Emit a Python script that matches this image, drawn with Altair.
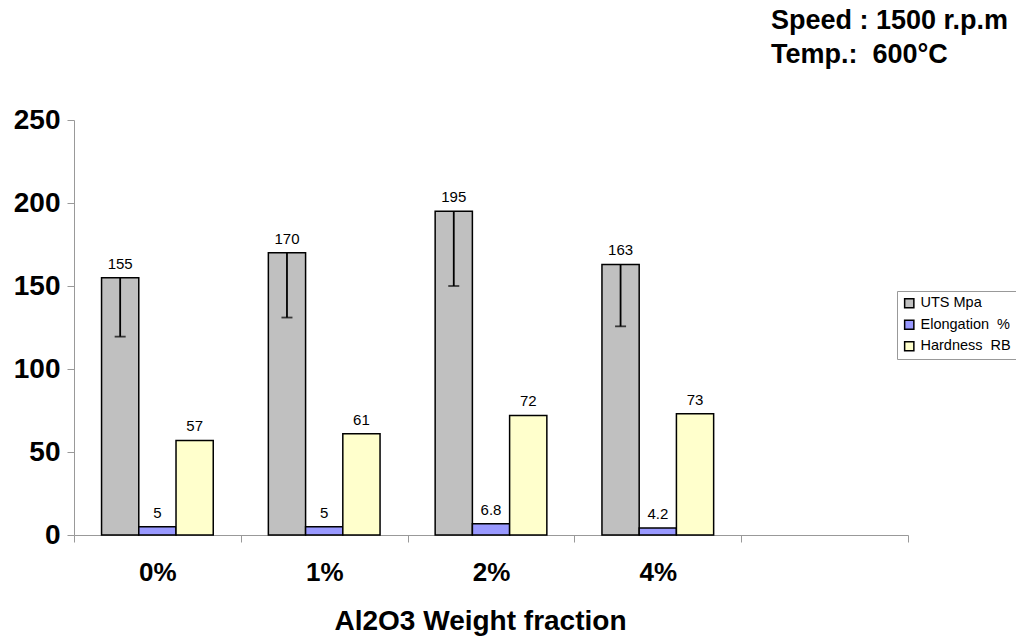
import altair as alt
import pandas as pd

categories = ["0%", "1%", "2%", "4%"]
x_domain = ["0%", "1%", "2%", "4%", " "]
series = ["UTS Mpa", "Elongation\u00a0\u00a0%", "Hardness\u00a0\u00a0RB"]
uts = [155, 170, 195, 163]
elong = [5, 5, 6.8, 4.2]
hard = [57, 61, 72, 73]
uts_low = [119.5, 131, 150, 125.7]
value_labels_uts = ["155", "170", "195", "163"]
value_labels_el = ["5", "5", "6.8", "4.2"]
value_labels_hd = ["57", "61", "72", "73"]
colors = ["#C0C0C0", "#9999FF", "#FFFFCC"]

rows = []
for i, c in enumerate(categories):
    for s, v, lab in zip(series, [uts[i], elong[i], hard[i]],
                         [value_labels_uts[i], value_labels_el[i], value_labels_hd[i]]):
        rows.append({"cat": c, "series": s, "value": v, "label": lab})
df = pd.DataFrame(rows)
err = pd.DataFrame({"cat": categories, "series": [series[0]] * 4, "value": uts, "low": uts_low})

FONT = "Liberation Sans"

x_enc = alt.X("cat:N", scale=alt.Scale(domain=x_domain, paddingInner=0, paddingOuter=0),
              axis=alt.Axis(title="Al2O3 Weight fraction", labelAngle=0, labelFontSize=26,
                            labelFontWeight="bold", labelFont=FONT, labelColor="black",
                            labelPadding=17, titleFontSize=28, titleFont=FONT,
                            titleFontWeight="bold", titleColor="black", titlePadding=22,
                            titleX=406, tickBand="extent", tickSize=7, tickColor="#999999",
                            domainColor="#999999", grid=False))
xo = alt.XOffset("series:N", scale=alt.Scale(domain=series, paddingInner=0, paddingOuter=0.74))
y_scale = alt.Scale(domain=[0, 250], nice=False)
y_enc = alt.Y("value:Q", scale=y_scale,
              axis=alt.Axis(title=None, values=[0, 50, 100, 150, 200, 250], labelFontSize=28,
                            labelFontWeight="bold", labelFont=FONT, labelColor="black",
                            labelPadding=7, tickSize=7, tickColor="#999999",
                            domainColor="#999999", grid=False))

bars = alt.Chart(df).mark_bar(stroke="black", strokeWidth=1.5).encode(
    x=x_enc, xOffset=xo, y=y_enc,
    color=alt.Color("series:N", scale=alt.Scale(domain=series, range=colors),
                    legend=alt.Legend(title=None, orient="none", legendX=823, legendY=171,
                                      symbolType="square", symbolSize=85,
                                      symbolStrokeColor="black", symbolStrokeWidth=1.5,
                                      labelFont=FONT, labelFontSize=14.5, labelColor="black",
                                      labelOffset=4, strokeColor="#999999", fillColor="white",
                                      padding=5, rowPadding=5.5, symbolOffset=0)),
)

labels = alt.Chart(df).mark_text(baseline="bottom", dy=-6, fontSize=15, font=FONT,
                                 color="black").encode(
    x=alt.X("cat:N"), xOffset=xo, y=alt.Y("value:Q"), text="label:N")

rule = alt.Chart(err).mark_rule(color="black", strokeWidth=1.8).encode(
    x=alt.X("cat:N"), xOffset=xo, y=alt.Y("value:Q"), y2="low:Q")
cap = alt.Chart(err).mark_tick(color="black", thickness=1.8, size=11).encode(
    x=alt.X("cat:N"), xOffset=xo, y=alt.Y("low:Q"))

chart = alt.layer(bars, rule, cap, labels).properties(
    width=834, height=415, background="white",
    title=alt.TitleParams(["Speed : 1500 r.p.m", "Temp.:\u00a0\u00a0600°C"], anchor="start",
                          align="left", dx=697, fontSize=27, font=FONT, fontWeight="bold",
                          color="black", lineHeight=34, offset=37, frame="group"),
    padding={"left": 66, "top": 112, "right": 108, "bottom": 106},
    autosize=alt.AutoSizeParams(type="none"),
).configure_view(stroke=None)

chart.save("out.html", embed_options={"renderer": "svg", "actions": False})
